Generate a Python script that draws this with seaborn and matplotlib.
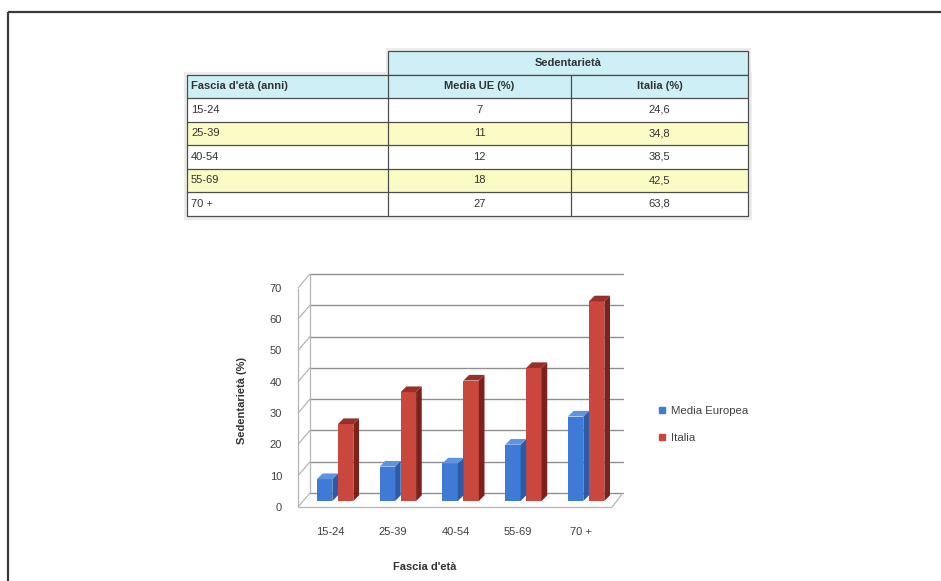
import matplotlib
matplotlib.use("Agg")
import matplotlib.pyplot as plt
import matplotlib.transforms as mtransforms
from matplotlib.patches import Rectangle, Polygon
from matplotlib.lines import Line2D
import pandas as pd
import seaborn as sns

# ---- data -------------------------------------------------------------
age_groups = ["15-24", "25-39", "40-54", "55-69", "70 +"]
media_ue = [7, 11, 12, 18, 27]
italia = [24.6, 34.8, 38.5, 42.5, 63.8]
series_names = ["Media Europea", "Italia"]
y_ticks = [0, 10, 20, 30, 40, 50, 60, 70]

table_title = "Sedentarietà"
table_headers = ["Fascia d'età (anni)", "Media UE (%)", "Italia (%)"]
y_label = "Sedentarietà (%)"
x_label = "Fascia d'età"

# ---- style ------------------------------------------------------------
BLUE, BLUE_SIDE, BLUE_TOP = "#3f7bd6", "#2b5aa6", "#5f93e0"
RED, RED_SIDE, RED_TOP = "#c9473c", "#7f211b", "#98302a"
CYAN, YELLOW = "#cdeff5", "#fbfbc6"
TEXT = "#333333"

sns.set_theme(style="white")
plt.rcParams["font.family"] = ["Liberation Sans", "DejaVu Sans"]

W, H = 941, 581
fig = plt.figure(figsize=(W / 100, H / 100), dpi=100)

# ---- page frame and summary table (pixel coordinates) ------------------
page = fig.add_axes([0, 0, 1, 1])
page.set_xlim(0, W)
page.set_ylim(H, 0)
page.axis("off")
page.add_patch(Rectangle((8, 12), W, H, fill=False, lw=1.6, ec="#3a3a3a"))

col_x = [187, 388, 571, 748]
row_top, row_h = 51, 23.5
line_kw = dict(color="#4d4d4d", lw=0.9)
tfs = 8

# soft shadow behind the table
page.add_patch(Rectangle((col_x[0] - 3, row_top + row_h - 3),
                         col_x[3] - col_x[0] + 7, row_h * 6 + 7,
                         fc="#ececec", ec="none"))
page.add_patch(Rectangle((col_x[1] - 2, row_top - 3),
                         col_x[3] - col_x[1] + 5, row_h + 3,
                         fc="#ececec", ec="none"))

# title row spanning the two value columns
page.add_patch(Rectangle((col_x[1], row_top), col_x[3] - col_x[1], row_h,
                         fc=CYAN, ec="#4d4d4d", lw=0.9))
page.text((col_x[1] + col_x[3]) / 2, row_top + row_h / 2, table_title,
          ha="center", va="center", fontsize=tfs, fontweight="bold", color=TEXT)

# header row
y0 = row_top + row_h
page.add_patch(Rectangle((col_x[0], y0), col_x[3] - col_x[0], row_h,
                         fc=CYAN, ec="none"))
page.text(col_x[0] + 4, y0 + row_h / 2, table_headers[0], ha="left",
          va="center", fontsize=tfs, fontweight="bold", color=TEXT)
for j in (1, 2):
    page.text((col_x[j] + col_x[j + 1]) / 2, y0 + row_h / 2, table_headers[j],
              ha="center", va="center", fontsize=tfs, fontweight="bold", color=TEXT)


def fmt(v):
    return f"{v:.1f}".replace(".", ",") if isinstance(v, float) else str(v)


for i, (age, ue, it) in enumerate(zip(age_groups, media_ue, italia)):
    ry = y0 + row_h * (i + 1)
    fill = YELLOW if i % 2 == 1 else "white"
    page.add_patch(Rectangle((col_x[0], ry), col_x[3] - col_x[0], row_h,
                             fc=fill, ec="none"))
    page.text(col_x[0] + 4, ry + row_h / 2, age, ha="left", va="center",
              fontsize=tfs, color=TEXT)
    page.text((col_x[1] + col_x[2]) / 2, ry + row_h / 2, fmt(ue),
              ha="center", va="center", fontsize=tfs, color=TEXT)
    page.text((col_x[2] + col_x[3]) / 2, ry + row_h / 2, fmt(it),
              ha="center", va="center", fontsize=tfs, color=TEXT)

n_rows = len(age_groups) + 1
for k in range(n_rows + 1):
    yy = y0 + row_h * k
    page.plot([col_x[0], col_x[3]], [yy, yy], **line_kw)
for xx in col_x:
    page.plot([xx, xx], [y0, y0 + row_h * n_rows], **line_kw)

# ---- bar chart --------------------------------------------------------
ax_left, ax_right = 296, 630
ax_bottom, ax_top = 510.4, 269.4
ax = fig.add_axes([ax_left / W, 1 - ax_bottom / H,
                   (ax_right - ax_left) / W, (ax_bottom - ax_top) / H])
ax.patch.set_alpha(0)

df = pd.DataFrame({
    "Fascia": age_groups * 2,
    "Serie": [series_names[0]] * len(age_groups) + [series_names[1]] * len(age_groups),
    "Valore": media_ue + italia,
})
sns.barplot(data=df, x="Fascia", y="Valore", hue="Serie",
            order=age_groups, hue_order=series_names,
            palette=[BLUE, RED], saturation=1, width=0.67,
            legend=False, ax=ax, zorder=3)

ax.set_xlim(-0.669, 4.654)
ax.set_ylim(-3.0, 74.0)

# 3-D box: front floor edge, back wall and left wall
front, back = -1.9, 2.56
fl, fr = -0.637, 4.37
bl, br = -0.446, 4.54
wall_kw = dict(color="#b5b5b5", lw=0.9, zorder=1, solid_capstyle="butt")
for v in y_ticks:
    ax.plot([bl, br], [v + back, v + back], color="#8f8f8f", lw=1.0, zorder=1)
    ax.plot([fl, bl], [v + front, v + back], **wall_kw)
ax.plot([fl, fl], [front, y_ticks[-1] + front], **wall_kw)
ax.plot([bl, bl], [back, y_ticks[-1] + back], **wall_kw)
ax.plot([fl, fr], [front, front], **wall_kw)
ax.plot([fr, br], [front, back], **wall_kw)

# give every bar a shaded side and top face
side_w, depth = 0.09, 1.8
shades = {0: (BLUE_SIDE, BLUE_TOP), 1: (RED_SIDE, RED_TOP)}
bars = [p for p in ax.patches if isinstance(p, Rectangle)]
for idx, p in enumerate(bars):
    series = idx // len(age_groups)
    side_c, top_c = shades[series]
    x0, w, h = p.get_x(), p.get_width(), p.get_height()
    p.set_width(w - side_w)
    p.set_edgecolor("none")
    x1 = x0 + w
    ax.add_patch(Polygon([(x1 - side_w, 0), (x1, depth), (x1, h + depth),
                          (x1 - side_w, h)], closed=True, fc=side_c,
                         ec="none", zorder=3))
    ax.add_patch(Polygon([(x0, h), (x1 - side_w, h), (x1, h + depth),
                          (x0 + side_w, h + depth)], closed=True, fc=top_c,
                         ec="none", zorder=3))

for s in ax.spines.values():
    s.set_visible(False)
ax.grid(False)

ax.set_yticks([v + front for v in y_ticks])
ax.set_yticklabels([str(v) for v in y_ticks])
ax.set_xticks(range(len(age_groups)))
ax.set_xticklabels(age_groups)
ax.tick_params(axis="both", length=0, labelsize=8, colors="#404040")
ax.tick_params(axis="x", pad=12)
ax.tick_params(axis="y", pad=10)
shift = mtransforms.ScaledTranslation(-8 / 100, 0, fig.dpi_scale_trans)
for lbl in ax.get_xticklabels():
    lbl.set_transform(lbl.get_transform() + shift)

ax.set_ylabel(y_label, fontsize=8, fontweight="bold", color=TEXT)
ax.yaxis.set_label_coords((247 - ax_left) / (ax_right - ax_left),
                          (ax_bottom - 400) / (ax_bottom - ax_top))
ax.set_xlabel(x_label, fontsize=8, fontweight="bold", color=TEXT)
ax.xaxis.set_label_coords((425 - ax_left) / (ax_right - ax_left),
                          (ax_bottom - 562) / (ax_bottom - ax_top))

handles = [Line2D([], [], marker="s", ls="none", markersize=5,
                  markerfacecolor=c, markeredgecolor=c)
           for c in (BLUE, RED)]
fig.legend(handles, series_names, loc="upper left",
           bbox_to_anchor=(647 / W, 1 - 396 / H), frameon=False,
           fontsize=8.2, handlelength=0.8, handletextpad=0.4,
           labelspacing=1.45, labelcolor="#404040")

fig.savefig("out.png", dpi=100)
